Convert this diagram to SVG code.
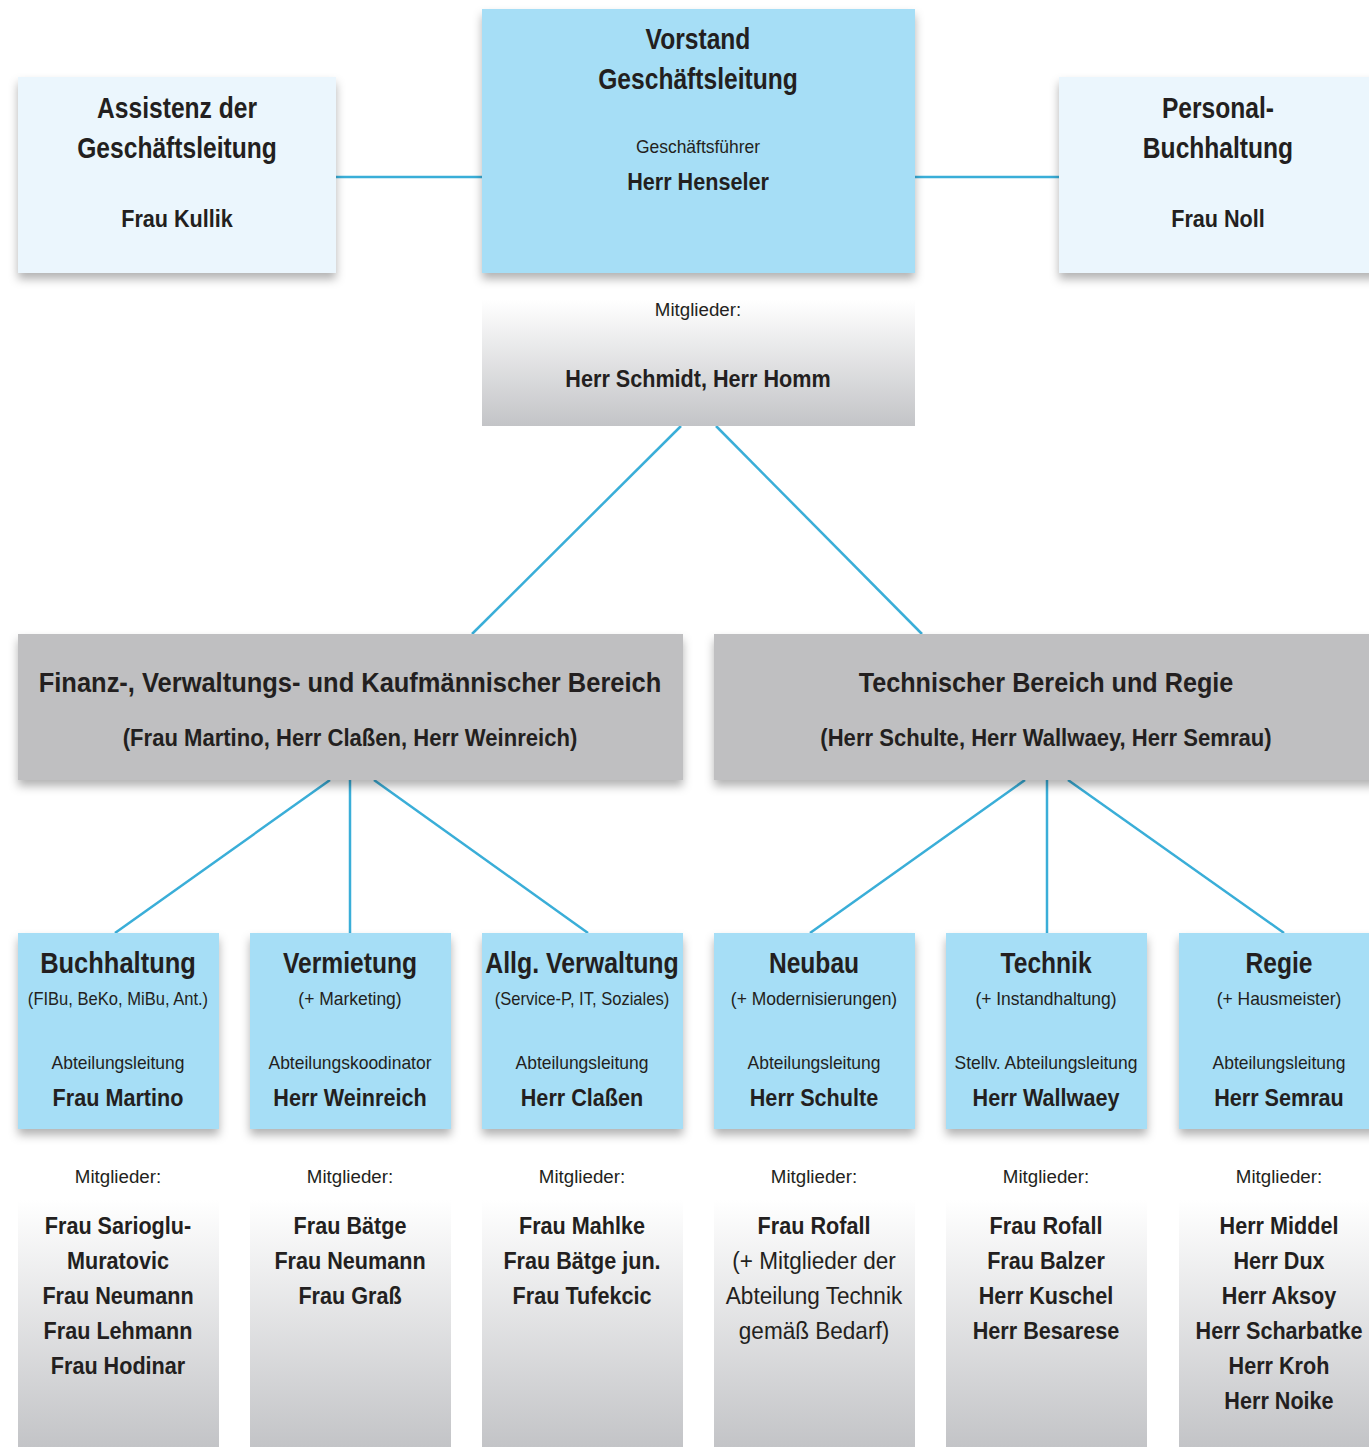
<svg xmlns="http://www.w3.org/2000/svg" width="1369" height="1447" viewBox="0 0 1369 1447">
<defs>
<filter id="sh" x="-10%" y="-10%" width="125%" height="130%">
<feDropShadow dx="0" dy="6" stdDeviation="5" flood-color="#000" flood-opacity="0.3"/>
</filter>
<linearGradient id="gTop" x1="0" y1="0" x2="0" y2="1">
<stop offset="0" stop-color="#ffffff"/>
<stop offset="1" stop-color="#c3c4c7"/>
</linearGradient>
<linearGradient id="gMem" x1="0" y1="0" x2="0" y2="1">
<stop offset="0" stop-color="#ffffff"/>
<stop offset="1" stop-color="#c3c4c7"/>
</linearGradient>
</defs>
<style>
text{font-family:"Liberation Sans",Arial,sans-serif;fill:#231f20;text-anchor:middle;transform-box:fill-box;transform-origin:center}
.t{font-size:30px;font-weight:bold;transform:scaleX(.82)}
.h{font-size:28px;font-weight:bold;transform:scaleX(.91)}
.n{font-size:24px;font-weight:bold;transform:scaleX(.9)}
.s{font-size:18px;transform:scaleX(.97)}
.sb{transform:scaleX(.92)}
.mg{transform:scaleX(1.04)}
.m{font-size:24px;transform:scaleX(.94)}
.blue{fill:#a6def6}
.light{fill:#ebf6fd}
.gray{fill:#bfbfc1}
.con{stroke:#3aaed8;stroke-width:2.5;fill:none}
</style>
<rect width="1369" height="1447" fill="#ffffff"/>

<g id="connectors">
<line class="con" x1="336" y1="177" x2="482" y2="177"/>
<line class="con" x1="915" y1="177" x2="1059" y2="177"/>
<line class="con" x1="681" y1="426" x2="472" y2="634"/>
<line class="con" x1="716" y1="426" x2="922" y2="634"/>
<line class="con" x1="330" y1="780" x2="115" y2="933"/>
<line class="con" x1="350" y1="780" x2="350" y2="933"/>
<line class="con" x1="374" y1="780" x2="588" y2="933"/>
<line class="con" x1="1025" y1="780" x2="810" y2="933"/>
<line class="con" x1="1047" y1="780" x2="1047" y2="933"/>
<line class="con" x1="1068" y1="780" x2="1284" y2="933"/>
</g>

<g id="assistenz">
<rect class="light" x="18" y="77" width="318" height="196" filter="url(#sh)"/>
<text class="t" x="177" y="118">Assistenz der</text>
<text class="t" x="177" y="158">Geschäftsleitung</text>
<text class="n" x="177" y="227">Frau Kullik</text>
</g>

<g id="vorstand">
<rect class="blue" x="482" y="9" width="433" height="264" filter="url(#sh)"/>
<text class="t" x="698" y="49">Vorstand</text>
<text class="t" x="698" y="89">Geschäftsleitung</text>
<text class="s" x="698" y="153">Geschäftsführer</text>
<text class="n" x="698" y="190">Herr Henseler</text>
</g>

<g id="personal">
<rect class="light" x="1059" y="77" width="320" height="196" filter="url(#sh)"/>
<text class="t" x="1218" y="118">Personal-</text>
<text class="t" x="1218" y="158">Buchhaltung</text>
<text class="n" x="1218" y="227">Frau Noll</text>
</g>

<g id="vorstand-mitglieder">
<rect fill="url(#gTop)" x="482" y="300" width="433" height="126"/>
<text class="s mg" x="698" y="316">Mitglieder:</text>
<text class="n" x="698" y="387">Herr Schmidt, Herr Homm</text>
</g>

<g id="finanz">
<rect class="gray" x="18" y="634" width="665" height="146" filter="url(#sh)"/>
<text class="h" x="350" y="692">Finanz-, Verwaltungs- und Kaufmännischer Bereich</text>
<text class="n" x="350" y="746" style="transform:scaleX(.92)">(Frau Martino, Herr Claßen, Herr Weinreich)</text>
</g>

<g id="technisch">
<rect class="gray" x="714" y="634" width="665" height="146" filter="url(#sh)"/>
<text class="h" x="1046" y="692" style="transform:scaleX(.9)">Technischer Bereich und Regie</text>
<text class="n" x="1046" y="746" style="transform:scaleX(.92)">(Herr Schulte, Herr Wallwaey, Herr Semrau)</text>
</g>

<g id="buchhaltung">
<rect class="blue" x="18" y="933" width="201" height="196" filter="url(#sh)"/>
<text class="t" x="118" y="973" style="transform:scaleX(.85)">Buchhaltung</text>
<text class="s sb" x="118" y="1005">(FIBu, BeKo, MiBu, Ant.)</text>
<text class="s" x="118" y="1069">Abteilungsleitung</text>
<text class="n" x="118" y="1106">Frau Martino</text>
<rect fill="url(#gMem)" x="18" y="1200" width="201" height="247"/>
<text class="s mg" x="118" y="1183">Mitglieder:</text>
<text class="n" x="118" y="1234">Frau Sarioglu-</text>
<text class="n" x="118" y="1269">Muratovic</text>
<text class="n" x="118" y="1304">Frau Neumann</text>
<text class="n" x="118" y="1339">Frau Lehmann</text>
<text class="n" x="118" y="1374">Frau Hodinar</text>
</g>

<g id="vermietung">
<rect class="blue" x="250" y="933" width="201" height="196" filter="url(#sh)"/>
<text class="t" x="350" y="973">Vermietung</text>
<text class="s" x="350" y="1005">(+ Marketing)</text>
<text class="s" x="350" y="1069">Abteilungskoodinator</text>
<text class="n" x="350" y="1106">Herr Weinreich</text>
<rect fill="url(#gMem)" x="250" y="1200" width="201" height="247"/>
<text class="s mg" x="350" y="1183">Mitglieder:</text>
<text class="n" x="350" y="1234">Frau Bätge</text>
<text class="n" x="350" y="1269">Frau Neumann</text>
<text class="n" x="350" y="1304">Frau Graß</text>
</g>

<g id="verwaltung">
<rect class="blue" x="482" y="933" width="201" height="196" filter="url(#sh)"/>
<text class="t" x="582" y="973" style="transform:scaleX(.83)">Allg. Verwaltung</text>
<text class="s sb" x="582" y="1005">(Service-P, IT, Soziales)</text>
<text class="s" x="582" y="1069">Abteilungsleitung</text>
<text class="n" x="582" y="1106">Herr Claßen</text>
<rect fill="url(#gMem)" x="482" y="1200" width="201" height="247"/>
<text class="s mg" x="582" y="1183">Mitglieder:</text>
<text class="n" x="582" y="1234">Frau Mahlke</text>
<text class="n" x="582" y="1269">Frau Bätge jun.</text>
<text class="n" x="582" y="1304">Frau Tufekcic</text>
</g>

<g id="neubau">
<rect class="blue" x="714" y="933" width="201" height="196" filter="url(#sh)"/>
<text class="t" x="814" y="973">Neubau</text>
<text class="s" x="814" y="1005">(+ Modernisierungen)</text>
<text class="s" x="814" y="1069">Abteilungsleitung</text>
<text class="n" x="814" y="1106">Herr Schulte</text>
<rect fill="url(#gMem)" x="714" y="1200" width="201" height="247"/>
<text class="s mg" x="814" y="1183">Mitglieder:</text>
<text class="n" x="814" y="1234">Frau Rofall</text>
<text class="m" x="814" y="1269">(+ Mitglieder der</text>
<text class="m" x="814" y="1304">Abteilung Technik</text>
<text class="m" x="814" y="1339">gemäß Bedarf)</text>
</g>

<g id="technik">
<rect class="blue" x="946" y="933" width="201" height="196" filter="url(#sh)"/>
<text class="t" x="1046" y="973">Technik</text>
<text class="s" x="1046" y="1005">(+ Instandhaltung)</text>
<text class="s" x="1046" y="1069">Stellv. Abteilungsleitung</text>
<text class="n" x="1046" y="1106">Herr Wallwaey</text>
<rect fill="url(#gMem)" x="946" y="1200" width="201" height="247"/>
<text class="s mg" x="1046" y="1183">Mitglieder:</text>
<text class="n" x="1046" y="1234">Frau Rofall</text>
<text class="n" x="1046" y="1269">Frau Balzer</text>
<text class="n" x="1046" y="1304">Herr Kuschel</text>
<text class="n" x="1046" y="1339">Herr Besarese</text>
</g>

<g id="regie">
<rect class="blue" x="1179" y="933" width="201" height="196" filter="url(#sh)"/>
<text class="t" x="1279" y="973">Regie</text>
<text class="s" x="1279" y="1005">(+ Hausmeister)</text>
<text class="s" x="1279" y="1069">Abteilungsleitung</text>
<text class="n" x="1279" y="1106">Herr Semrau</text>
<rect fill="url(#gMem)" x="1179" y="1200" width="201" height="247"/>
<text class="s mg" x="1279" y="1183">Mitglieder:</text>
<text class="n" x="1279" y="1234">Herr Middel</text>
<text class="n" x="1279" y="1269">Herr Dux</text>
<text class="n" x="1279" y="1304">Herr Aksoy</text>
<text class="n" x="1279" y="1339">Herr Scharbatke</text>
<text class="n" x="1279" y="1374">Herr Kroh</text>
<text class="n" x="1279" y="1409">Herr Noike</text>
</g>
</svg>
